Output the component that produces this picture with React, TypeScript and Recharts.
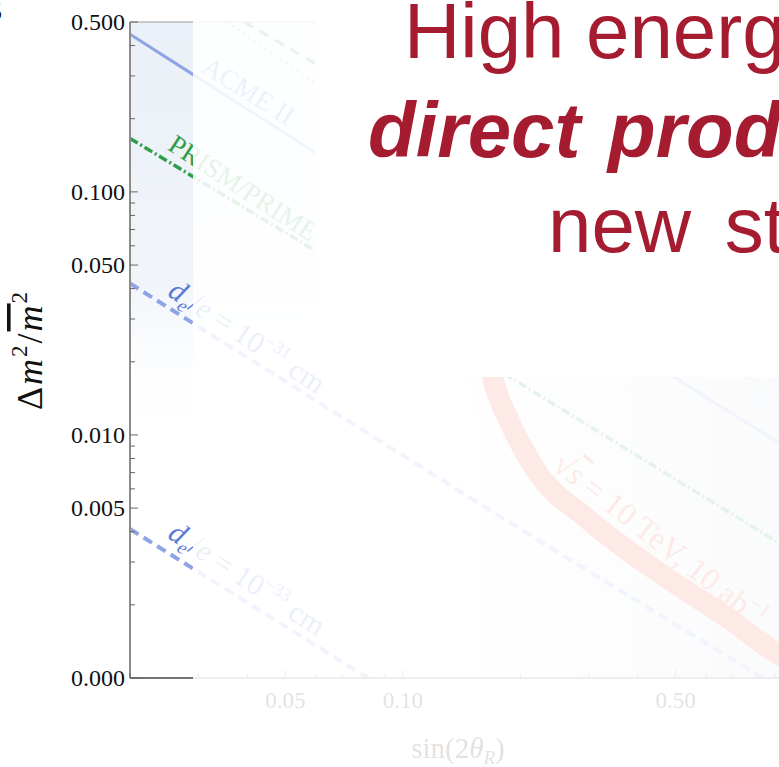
import React from 'react';
import { LineChart, Line, XAxis, YAxis, ReferenceArea, ReferenceLine, ReferenceDot } from 'recharts';

const SERIF = '"Liberation Serif", "Times New Roman", serif';
const SANS = '"Liberation Sans", Arial, sans-serif';

// axis ticks
const xTicks = [0.02, 0.03, 0.04, 0.05, 0.06, 0.07, 0.08, 0.09, 0.1, 0.2, 0.3, 0.4, 0.5, 0.6, 0.7, 0.8, 0.9, 1];
const xMajor = [0.05, 0.1, 0.5];
const xMajorLabels = ['0.05', '0.10', '0.50'];
const yTicks = [
  0.001, 0.002, 0.003, 0.004, 0.005, 0.006, 0.007, 0.008, 0.009,
  0.01, 0.02, 0.03, 0.04, 0.05, 0.06, 0.07, 0.08, 0.09,
  0.1, 0.2, 0.3, 0.4, 0.5,
];
const yMajor = [0.001, 0.005, 0.01, 0.05, 0.1, 0.5];
const yMajorLabels = ['0.000', '0.005', '0.010', '0.050', '0.100', '0.500'];

// curves (sin 2theta_R, dm^2/m^2)
const acmeII = [
  { x: 0.02, y: 0.445 }, { x: 0.0291, y: 0.303 }, { x: 0.0598, y: 0.145 },
  { x: 0.495, y: 0.0173 }, { x: 0.927, y: 0.0092 }, { x: 1, y: 0.0086 },
];
const prismPrime = [
  { x: 0.02, y: 0.166 }, { x: 0.0592, y: 0.0577 }, { x: 0.189, y: 0.0172 },
  { x: 0.893, y: 0.0037 }, { x: 1, y: 0.0033 },
];
const greenUpper = [
  { x: 0.0392, y: 0.5 }, { x: 0.0425, y: 0.464 }, { x: 0.0592, y: 0.34 },
  { x: 0.2, y: 0.105 }, { x: 1, y: 0.021 },
];
const greenDotted = [
  { x: 0.0355, y: 0.5 }, { x: 0.0362, y: 0.487 }, { x: 0.058, y: 0.289 },
  { x: 0.2, y: 0.075 }, { x: 1, y: 0.013 },
];
const de31 = [
  { x: 0.02, y: 0.042 }, { x: 0.178, y: 0.0046 }, { x: 0.828, y: 0.00101 }, { x: 1, y: 0.00084 },
];
const de33 = [
  { x: 0.02, y: 0.0041 }, { x: 0.0813, y: 0.001 }, { x: 0.1, y: 0.0008 },
];
const muCollider = [
  { x: 0.158, y: 0.04 }, { x: 0.163, y: 0.025 }, { x: 0.17, y: 0.0173 },
  { x: 0.187, y: 0.0115 }, { x: 0.219, y: 0.0072 }, { x: 0.298, y: 0.0045 },
  { x: 0.441, y: 0.0028 }, { x: 0.693, y: 0.00173 }, { x: 0.927, y: 0.00124 },
  { x: 1, y: 0.00116 },
];

const XTick = (props: any) => {
  const { x, y, payload } = props;
  const i = xMajor.indexOf(payload.value);
  const len = i >= 0 ? 8 : 5;
  return (
    <g>
      <line x1={x} y1={y} x2={x} y2={y - len} stroke="#666" strokeWidth={1} />
      {i >= 0 && (
        <text x={x} y={y + 30} textAnchor="middle" fontFamily={SERIF} fontSize={23} fill="#111">
          {xMajorLabels[i]}
        </text>
      )}
    </g>
  );
};

const YTick = (props: any) => {
  const { x, y, payload } = props;
  const i = yMajor.indexOf(payload.value);
  const len = i >= 0 ? 8 : 5;
  return (
    <g>
      <line x1={x} y1={y} x2={x + len} y2={y} stroke="#666" strokeWidth={1} />
      {i >= 0 && (
        <text x={x - 5} y={y} dy="0.33em" textAnchor="end" fontFamily={SERIF} fontSize={24} fill="#111">
          {yMajorLabels[i]}
        </text>
      )}
    </g>
  );
};

const rotLabel = (angle: number, color: string, size: number, content: React.ReactNode, anchor = 'middle') =>
  (props: any) => {
    const vb = props.viewBox || {};
    const cx = vb.x + (vb.width || 0) / 2;
    const cy = vb.y + (vb.height || 0) / 2;
    return (
      <text
        x={cx}
        y={cy}
        dy={anchor === 'middle' ? '0.3em' : 0}
        transform={`rotate(${angle} ${cx} ${cy})`}
        textAnchor={anchor}
        fontFamily={SERIF}
        fontSize={size}
        fill={color}
      >
        {content}
      </text>
    );
  };

const yAxisTitle = (props: any) => {
  const vb = props.viewBox || {};
  const cx = vb.x - 28;
  const cy = vb.y + vb.height / 2;
  return (
    <text x={cx} y={cy} transform={`rotate(-90 ${cx} ${cy})`} textAnchor="middle" fontFamily={SERIF} fontSize={36} fill="#111" letterSpacing={2}>
      Δ<tspan fontStyle="italic">m</tspan>
      <tspan fontSize={23} dy={-15}>2</tspan>
      <tspan dy={15}>/</tspan>
      <tspan fontStyle="italic" style={{ textDecoration: 'overline' }}>m</tspan>
      <tspan fontSize={23} dy={-15}>2</tspan>
    </text>
  );
};

const xAxisTitle = (props: any) => {
  const vb = props.viewBox || {};
  const cx = 458;
  const cy = vb.y + 80;
  return (
    <text x={cx} y={cy} textAnchor="middle" fontFamily={SERIF} fontSize={29} fill="#111">
      sin(2<tspan fontStyle="italic">θ</tspan>
      <tspan fontStyle="italic" fontSize={19} dy={6}>R</tspan>
      <tspan dy={-6}>)</tspan>
    </text>
  );
};

const deLabel = (exp: string) => (
  <>
    <tspan fontStyle="italic">d</tspan>
    <tspan fontStyle="italic" fontSize={19} dy={6}>e</tspan>
    <tspan dy={-6} dx={1}>/</tspan>
    <tspan fontStyle="italic">e</tspan>
    <tspan> = 10</tspan>
    <tspan fontSize={18} dy={-12}>{exp}</tspan>
    <tspan dy={12}> cm</tspan>
  </>
);

export default function App() {
  return (
    <div style={{ position: 'absolute', left: 0, top: 0, width: 779, height: 767, overflow: 'hidden', background: '#fff' }}>
      <LineChart width={800} height={767} margin={{ top: 22, right: 7, bottom: 39, left: 70 }}>
        <defs>
          <linearGradient id="blueFade" x1="0" y1="0" x2="0" y2="1">
            <stop offset="0%" stopColor="#eaf0f7" stopOpacity={1} />
            <stop offset="40%" stopColor="#f1f5fa" stopOpacity={1} />
            <stop offset="64%" stopColor="#ffffff" stopOpacity={0} />
          </linearGradient>
          <linearGradient id="grayFade" x1="0" y1="0" x2="1" y2="0">
            <stop offset="0%" stopColor="#c4c8d6" stopOpacity={0} />
            <stop offset="45%" stopColor="#c4c8d6" stopOpacity={0.3} />
            <stop offset="100%" stopColor="#bfc3d3" stopOpacity={0.7} />
          </linearGradient>
        </defs>
        <ReferenceArea x1={0.02} x2={1} y1={0.001} y2={0.5} fill="url(#blueFade)" fillOpacity={1} stroke="none" />
        <ReferenceArea x1={0.1} x2={1} y1={0.001} y2={0.5} fill="url(#grayFade)" fillOpacity={1} stroke="none" />
        <XAxis
          type="number"
          dataKey="x"
          scale="log"
          domain={[0.02, 1]}
          allowDataOverflow
          ticks={xTicks}
          interval={0}
          tick={<XTick />}
          tickLine={false}
          tickSize={0}
          tickMargin={0}
          height={50}
          axisLine={{ stroke: '#444', strokeWidth: 1.5 }}
          label={xAxisTitle}
        />
        <YAxis
          type="number"
          dataKey="y"
          scale="log"
          domain={[0.001, 0.5]}
          allowDataOverflow
          ticks={yTicks}
          interval={0}
          tick={<YTick />}
          tickLine={false}
          tickSize={0}
          tickMargin={0}
          width={60}
          axisLine={{ stroke: '#8c8c8c', strokeWidth: 2 }}
          label={yAxisTitle}
        />
        <ReferenceLine y={0.5} stroke="#9a9a9a" strokeWidth={1} />
        <Line data={muCollider} dataKey="y" type="monotone" stroke="#ea4a31" strokeWidth={21} dot={false} isAnimationActive={false} />
        <Line data={greenDotted} dataKey="y" type="linear" stroke="#5aa46a" strokeWidth={2} strokeDasharray="1.5 5" dot={false} isAnimationActive={false} />
        <Line data={greenUpper} dataKey="y" type="linear" stroke="#36a24e" strokeWidth={3} strokeDasharray="10 8" dot={false} isAnimationActive={false} />
        <Line data={acmeII} dataKey="y" type="linear" stroke="#8ea4e4" strokeWidth={3} dot={false} isAnimationActive={false} />
        <Line data={prismPrime} dataKey="y" type="linear" stroke="#2f9e48" strokeWidth={3.5} strokeDasharray="9 3 2 3" dot={false} isAnimationActive={false} />
        <Line data={de31} dataKey="y" type="linear" stroke="#8ea4e4" strokeWidth={4} strokeDasharray="10 6" dot={false} isAnimationActive={false} />
        <Line data={de33} dataKey="y" type="linear" stroke="#8ea4e4" strokeWidth={4} strokeDasharray="10 6" dot={false} isAnimationActive={false} />
        <ReferenceDot x={0.0401} y={0.258} r={1} fill="none" stroke="none" label={rotLabel(32, '#7088dc', 27, 'ACME II')} />
        <ReferenceDot x={0.0389} y={0.103} r={1} fill="none" stroke="none" label={rotLabel(33, '#2f9e48', 27, 'PRISM/PRIME')} />
        <ReferenceDot x={0.0398} y={0.0252} r={1} fill="none" stroke="none" label={rotLabel(33.5, '#5a7ad6', 30, deLabel('−31'))} />
        <ReferenceDot x={0.0398} y={0.00254} r={1} fill="none" stroke="none" label={rotLabel(33.5, '#5a7ad6', 30, deLabel('−33'))} />
        <ReferenceDot
          x={0.2395}
          y={0.0073}
          r={1}
          fill="none"
          stroke="none"
          label={rotLabel(38, '#ea4a31', 32, (
            <>
              <tspan>√</tspan>
              <tspan fontStyle="italic" style={{ textDecoration: 'overline' }}>s</tspan>
              <tspan> = 10 TeV, 10 ab</tspan>
              <tspan fontSize={20} dy={-13}>−1</tspan>
            </>
          ), 'start')}
        />
      </LineChart>
      <svg width={779} height={767} style={{ position: 'absolute', left: 0, top: 0, pointerEvents: 'none' }}>
        <rect x={193} y={0} width={586} height={767} fill="#fff" fillOpacity={0.88} />
        <rect x={315} y={0} width={464} height={377} fill="#fff" />
        <text x={-11} y={20} fontFamily={SERIF} fontSize={26} fontWeight="bold" fill="#111">5</text>
        <g fontFamily={SANS} fontSize={78} fill="#a51c30">
          <text x={404} y={58}>High energy:</text>
          <text x={368} y={157} fontWeight="bold" fontStyle="italic" wordSpacing={6}>direct production</text>
          <text x={548} y={252} wordSpacing={12}>new states</text>
        </g>
      </svg>
    </div>
  );
}
